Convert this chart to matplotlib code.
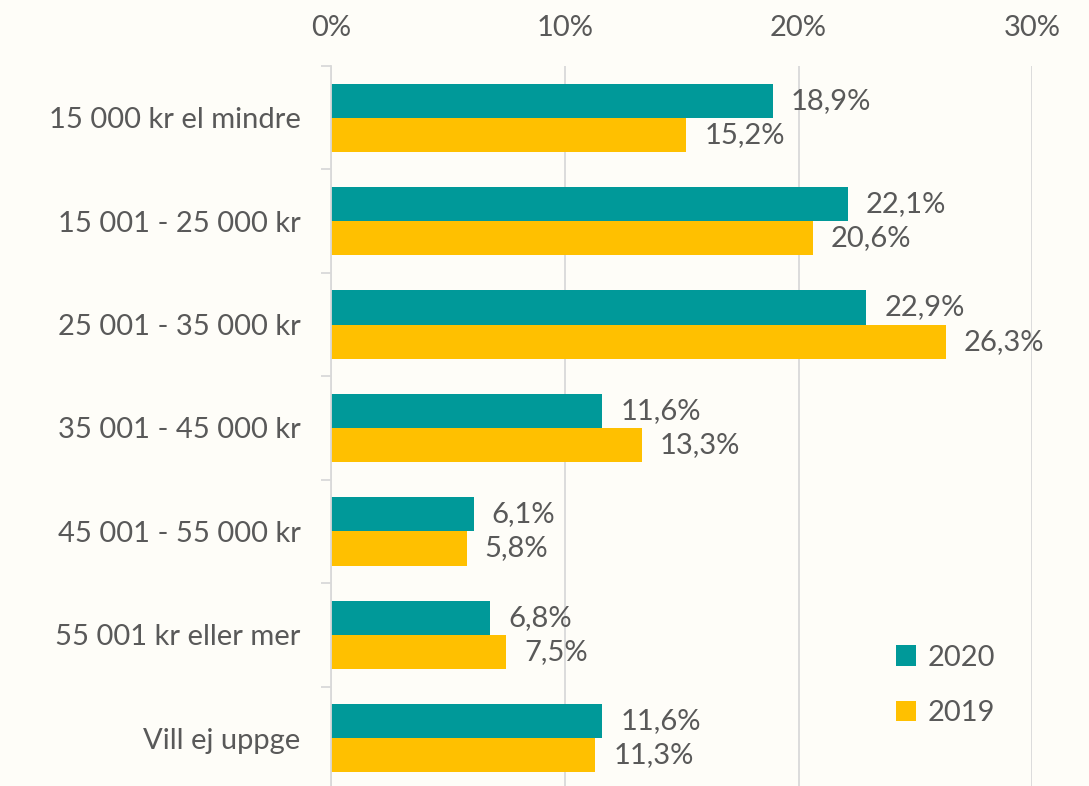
import matplotlib.pyplot as plt
import numpy as np
from matplotlib.ticker import PercentFormatter, FixedLocator

categories = ["15 000 kr el mindre", "15 001 - 25 000 kr", "25 001 - 35 000 kr",
              "35 001 - 45 000 kr", "45 001 - 55 000 kr", "55 001 kr eller mer",
              "Vill ej uppge"]
v2020 = [18.9, 22.1, 22.9, 11.6, 6.1, 6.8, 11.6]
v2019 = [15.2, 20.6, 26.3, 13.3, 5.8, 7.5, 11.3]

bg = "#FEFDF8"
teal = "#009999"
yellow = "#FFC000"
txt = "#595959"
grid = "#D9D9D9"

plt.rcParams["font.family"] = ["Lato", "DejaVu Sans"]
fs = 21

fig = plt.figure(figsize=(10.89, 7.86), dpi=100, facecolor=bg)
ax = fig.add_axes([0.304, -0.005, 0.644, 0.921], facecolor=bg)

y = np.arange(len(categories))
h = 0.33
b1 = ax.barh(y - h / 2, v2020, height=h, color=teal, label="2020")
b2 = ax.barh(y + h / 2, v2019, height=h, color=yellow, label="2019")

for bars, vals in ((b1, v2020), (b2, v2019)):
    for rect, v in zip(bars, vals):
        ax.annotate(f"{v:.1f}%".replace(".", ","),
                    (rect.get_width(), rect.get_y() + rect.get_height() / 2),
                    xytext=(13, 0), textcoords="offset points",
                    va="center", ha="left", fontsize=fs, color=txt)

ax.set_xlim(0, 30)
ax.set_ylim(len(categories) - 0.5, -0.5)
ax.xaxis.tick_top()
ax.set_xticks([0, 10, 20, 30])
ax.xaxis.set_major_formatter(PercentFormatter(decimals=0))
ax.tick_params(axis="x", length=0, pad=18, labelsize=fs, labelcolor=txt)
ax.grid(axis="x", color=grid, linewidth=1.3)
ax.set_axisbelow(True)

ax.set_yticks(y)
ax.set_yticklabels(categories)
ax.yaxis.set_minor_locator(FixedLocator(np.arange(-0.5, len(categories), 1)))
ax.tick_params(axis="y", which="major", length=0, pad=22, labelsize=fs, labelcolor=txt)
ax.tick_params(axis="y", which="minor", length=7, width=1.3, color=grid)

for s in ("top", "right", "bottom"):
    ax.spines[s].set_visible(False)
ax.spines["left"].set_color(grid)
ax.spines["left"].set_linewidth(1.3)

ax.legend(loc="lower right", bbox_to_anchor=(0.985, 0.052), frameon=False,
          fontsize=fs, labelcolor=txt, handlelength=0.7, handleheight=0.7,
          handletextpad=0.4, labelspacing=1.0)

fig.savefig("out.png", dpi=100, facecolor=bg)
